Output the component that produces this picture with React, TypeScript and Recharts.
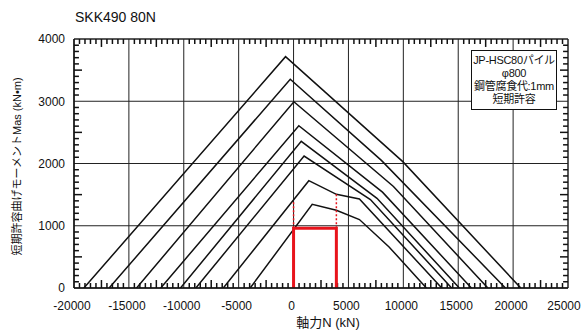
import React from 'react';
import { LineChart, Line, XAxis, YAxis, ReferenceLine, Label } from 'recharts';

// axis ticks
const xMajorTicks = [-20000, -15000, -10000, -5000, 0, 5000, 10000, 15000, 20000, 25000];
const yMajorTicks = [0, 1000, 2000, 3000, 4000];
const xMinorTicks = Array.from({ length: 91 }, (_, i) => -20000 + i * 500).filter((v) => v % 5000 !== 0);
const yMinorTicks = Array.from({ length: 41 }, (_, i) => i * 100).filter((v) => v % 1000 !== 0);

// interaction curves: axial force N (kN) vs allowable moment Mas (kN·m)
const curve1 = [{ n: -19100, m: 0 }, { n: -730, m: 3716 }, { n: 9950, m: 2030 }, { n: 20700, m: 0 }];
const curve2 = [{ n: -16800, m: 0 }, { n: -300, m: 3353 }, { n: 8000, m: 2050 }, { n: 19300, m: 0 }];
const curve3 = [{ n: -14300, m: 0 }, { n: 30, m: 2993 }, { n: 9100, m: 1630 }, { n: 17700, m: 0 }];
const curve4 = [{ n: -12100, m: 0 }, { n: 480, m: 2607 }, { n: 8100, m: 1540 }, { n: 16200, m: 0 }];
const curve5 = [{ n: -10300, m: 0 }, { n: 700, m: 2357 }, { n: 7600, m: 1440 }, { n: 15100, m: 0 }];
const curve6 = [{ n: -8900, m: 0 }, { n: 960, m: 2120 }, { n: 7000, m: 1420 }, { n: 14400, m: 0 }];
const curve7 = [{ n: -6400, m: 0 }, { n: 1390, m: 1724 }, { n: 3900, m: 1505 }, { n: 6000, m: 1430 }, { n: 13500, m: 0 }];
const curve8 = [{ n: -3950, m: 0 }, { n: 1700, m: 1345 }, { n: 3900, m: 1250 }, { n: 6000, m: 1100 }, { n: 8700, m: 660 }, { n: 12100, m: 0 }];
const curves = [curve1, curve2, curve3, curve4, curve5, curve6, curve7, curve8];

// design load range (red)
const loadBox = [{ n: 0, m: 0 }, { n: 0, m: 960 }, { n: 3900, m: 960 }, { n: 3900, m: 0 }];
const loadLeftDash = [{ n: 0, m: 960 }, { n: 0, m: 1400 }];
const loadRightDash = [{ n: 3900, m: 960 }, { n: 3900, m: 1505 }];

const legendLines = ['JP-HSC80パイル', 'φ800', '鋼管腐食代:1mm', '短期許容'];

const FONT = "'Liberation Sans', Arial, 'Noto Sans CJK JP', sans-serif";
const INK = '#111';
const RED = '#e8141c';

const X_MIN = -20000;
const X_MAX = 25000;
const Y_MIN = 0;
const Y_MAX = 4000;
// inward tick lengths, in axis units (≈5px / 8px on this plot)
const XT_SHORT = 80;
const XT_LONG = 128;
const YT_SHORT = 450;
const YT_LONG = 730;

const XLabelTick = (props: any) => {
  const { x, y, payload } = props;
  const v = payload.value;
  return (
    <text x={x + (v === X_MAX ? -4 : -2)} y={y + 13} dy="0.71em" textAnchor="middle" fontSize={12} fill={INK}>
      {v}
    </text>
  );
};

const frame = { stroke: INK, strokeWidth: 1.5 };

export default function App() {
  return (
    <div style={{ position: 'absolute', left: 0, top: 0, width: 582, height: 331, background: '#fff', fontFamily: FONT }}>
      <div style={{ position: 'absolute', left: 75, top: 9, fontSize: 14, lineHeight: '16px', color: INK }}>SKK490 80N</div>
      <LineChart width={582} height={331} data={curve1} margin={{ top: 39, right: 14, bottom: 0, left: 0 }} style={{ fontFamily: FONT }}>
        {xMajorTicks.map((v) => (
          <ReferenceLine key={`gx${v}`} x={v} stroke="#222" strokeWidth={v === X_MAX ? 1.5 : 1} />
        ))}
        {yMajorTicks.map((v) => (
          <ReferenceLine key={`gy${v}`} y={v} stroke="#222" strokeWidth={v === Y_MAX ? 1.5 : 1} />
        ))}
        {xMinorTicks.map((v) => {
          const len = v % 2500 === 0 ? XT_LONG : XT_SHORT;
          return [
            <ReferenceLine key={`tb${v}`} segment={[{ x: v, y: Y_MIN }, { x: v, y: Y_MIN + len }]} stroke={INK} strokeWidth={1.5} />,
            <ReferenceLine key={`tt${v}`} segment={[{ x: v, y: Y_MAX }, { x: v, y: Y_MAX - len }]} stroke={INK} strokeWidth={1.5} />,
          ];
        })}
        {yMinorTicks.map((v) => {
          const len = v % 500 === 0 ? YT_LONG : YT_SHORT;
          return [
            <ReferenceLine key={`tl${v}`} segment={[{ x: X_MIN, y: v }, { x: X_MIN + len, y: v }]} stroke={INK} strokeWidth={1.5} />,
            <ReferenceLine key={`tr${v}`} segment={[{ x: X_MAX, y: v }, { x: X_MAX - len, y: v }]} stroke={INK} strokeWidth={1.5} />,
          ];
        })}
        <XAxis
          type="number"
          dataKey="n"
          domain={[X_MIN, X_MAX]}
          allowDataOverflow
          ticks={xMajorTicks}
          interval={0}
          height={43}
          tickSize={0}
          tickMargin={0}
          axisLine={frame}
          tickLine={false}
          tick={XLabelTick}
        >
          <Label
            content={({ viewBox }: any) => (
              <text x={viewBox.x + viewBox.width / 2 + 7} y={viewBox.y + 34} textAnchor="middle" dominantBaseline="central" fontSize={13} fill={INK}>
                軸力N (kN)
              </text>
            )}
          />
        </XAxis>
        <YAxis
          type="number"
          domain={[Y_MIN, Y_MAX]}
          allowDataOverflow
          ticks={yMajorTicks}
          interval={0}
          width={74}
          tickSize={0}
          tickMargin={9}
          axisLine={frame}
          tickLine={false}
          tick={{ fill: INK, fontSize: 12 }}
        >
          <Label
            content={({ viewBox }: any) => {
              const cx = viewBox.x + 17;
              const cy = viewBox.y + viewBox.height / 2 + 3;
              return (
                <text x={cx} y={cy} transform={`rotate(-90 ${cx} ${cy})`} textAnchor="middle" dominantBaseline="central" fontSize={11} fill={INK}>
                  短期許容曲げモーメントMas (kN•m)
                </text>
              );
            }}
          />
        </YAxis>
        {curves.map((c, i) => (
          <Line
            key={i}
            data={c}
            dataKey="m"
            type="linear"
            stroke={INK}
            strokeWidth={1.5}
            dot={false}
            activeDot={false}
            isAnimationActive={false}
          />
        ))}
        <Line data={loadLeftDash} dataKey="m" stroke={RED} strokeWidth={1.5} strokeDasharray="2 2" dot={false} activeDot={false} isAnimationActive={false} />
        <Line data={loadRightDash} dataKey="m" stroke={RED} strokeWidth={1.5} strokeDasharray="2 2" dot={false} activeDot={false} isAnimationActive={false} />
        <Line data={loadBox} dataKey="m" stroke={RED} strokeWidth={3} dot={false} activeDot={false} isAnimationActive={false} />
      </LineChart>
      <div
        style={{
          position: 'absolute',
          left: 471,
          top: 50,
          width: 86,
          height: 60,
          boxSizing: 'border-box',
          border: `1.5px solid ${INK}`,
          background: '#fff',
          paddingTop: 3,
          textAlign: 'center',
          fontSize: 11,
          lineHeight: '13px',
          color: INK,
          whiteSpace: 'nowrap',
          letterSpacing: -0.3,
        }}
      >
        {legendLines.map((t) => (
          <div key={t}>{t}</div>
        ))}
      </div>
    </div>
  );
}
